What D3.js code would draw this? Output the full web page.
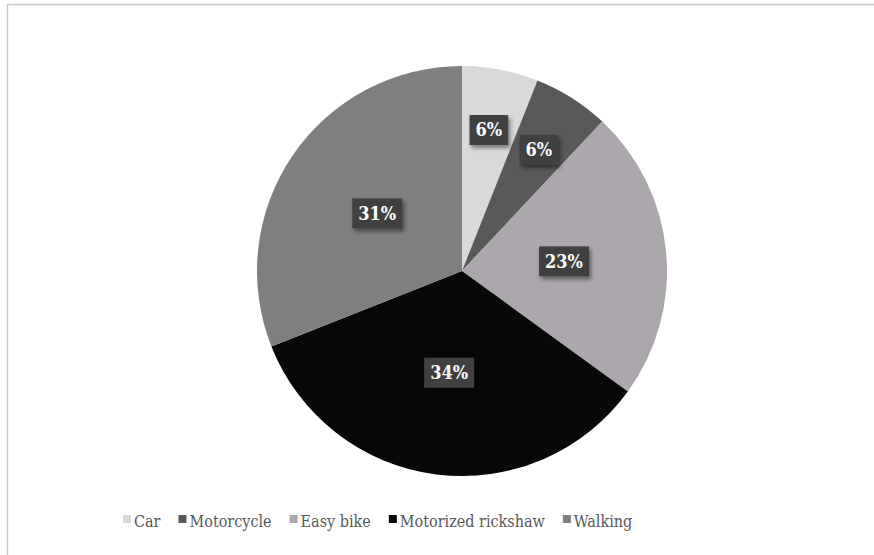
<!DOCTYPE html>
<html><head><meta charset="utf-8">
<script src="https://cdn.jsdelivr.net/npm/d3@7"></script>
<style>body{margin:0;background:#fff}svg{display:block}
text{font-family:"DejaVu Serif Condensed","DejaVu Serif",serif;font-stretch:condensed}</style>
</head><body>
<svg id="c" width="874" height="555"></svg>
<script>
const categories = ["Car", "Motorcycle", "Easy bike", "Motorized rickshaw", "Walking"];
const values = [6, 6, 23, 34, 31];
const labels = ["6%", "6%", "23%", "34%", "31%"];
const colors = ["#d9d9d9", "#595959", "#aca7ac", "#080808", "#7f7f7f"];

const svg = d3.select("#c");
const W = 874, H = 555;
const defs = svg.append("defs");
const f = defs.append("filter").attr("id","sh").attr("x","-30%").attr("y","-30%").attr("width","160%").attr("height","170%");
f.append("feDropShadow").attr("dx",2).attr("dy",3).attr("stdDeviation",2).attr("flood-color","#000").attr("flood-opacity",0.45);

// chart border
svg.append("rect").attr("x",7.5).attr("y",4.5).attr("width",W+10).attr("height",H+10)
  .attr("fill","none").attr("stroke","#c9c9c9").attr("stroke-width",1.5);

const cx = 462, cy = 271, R = 205;
const pie = d3.pie().sort(null).value(d => d)(values);
const arc = d3.arc().innerRadius(0).outerRadius(R);
const g = svg.append("g").attr("transform", `translate(${cx},${cy})`);
g.selectAll("path").data(pie).join("path").attr("d", arc).attr("fill", (d,i) => colors[i]);

const lab = g.selectAll("g.lab").data(pie).join("g").attr("class","lab")
  .attr("transform", d => {
    const frac = (d.endAngle - d.startAngle) / (2*Math.PI) < 0.1 ? 0.7 : 0.5;
    const a = (d.startAngle + d.endAngle) / 2;
    return `translate(${Math.sin(a)*R*frac},${-Math.cos(a)*R*frac})`;
  });
lab.each(function(d,i){
  const s = d3.select(this);
  const r = s.append("rect").attr("fill","#404040").attr("filter","url(#sh)");
  const t = s.append("text").text(labels[i]).attr("text-anchor","middle").attr("dy","0.35em")
    .attr("font-weight","bold").attr("font-size",18).attr("fill","#fff");
  const w = t.node().getComputedTextLength() + 12;
  r.attr("x",-w/2).attr("y",-15).attr("width",w).attr("height",30);
});

// legend
const lg = svg.append("g").attr("transform","translate(123,525)");
let x = 0;
categories.forEach((c,i) => {
  lg.append("rect").attr("x",x).attr("y",-10).attr("width",8).attr("height",8).attr("fill",colors[i]);
  const t = lg.append("text").attr("x",x+11).attr("y",0).attr("dy","0.1em").text(c)
    .attr("font-size",16).attr("fill","#595959");
  x += 11 + t.node().getComputedTextLength() + 18;
});
</script>
</body></html>
